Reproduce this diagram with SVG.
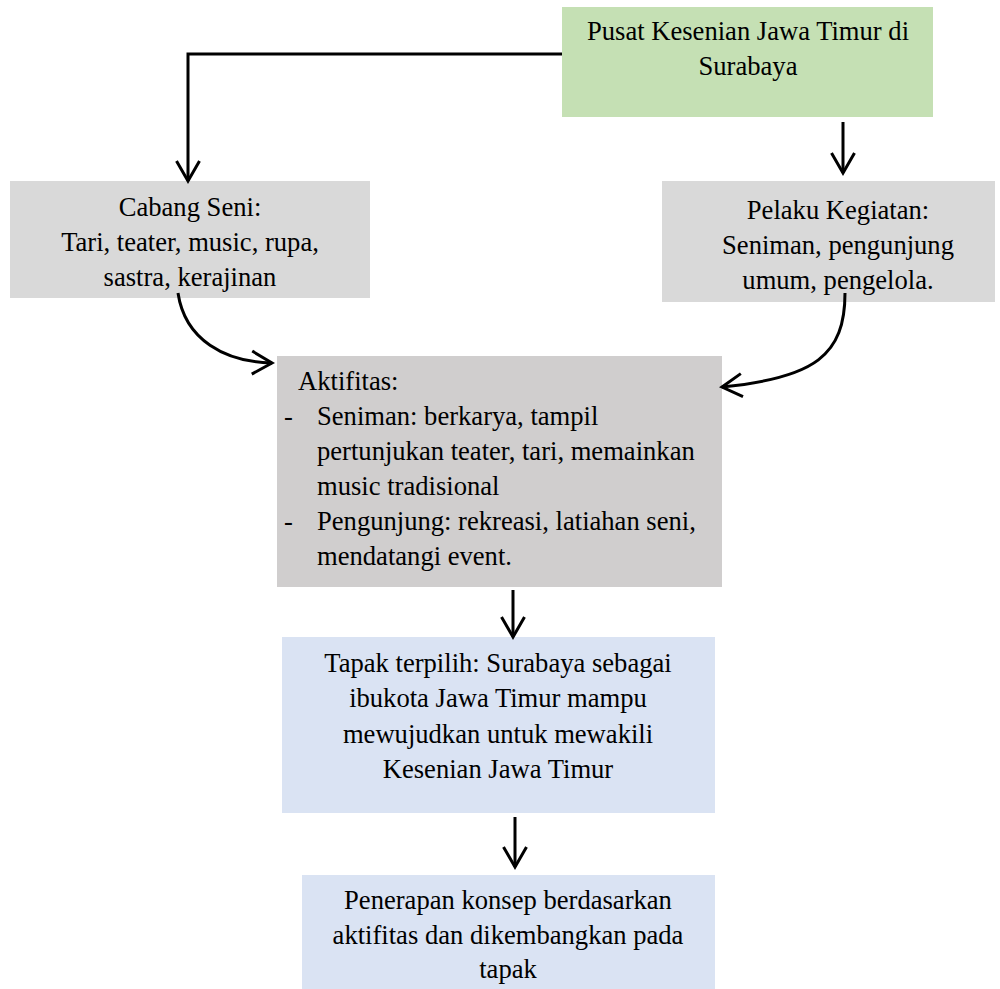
<svg xmlns="http://www.w3.org/2000/svg" width="1000" height="989" viewBox="0 0 1000 989">
  <style>
    text { font-family: "Liberation Serif", "Times New Roman", serif; font-size: 26.6px; fill: #000; }
    .c { text-anchor: middle; }
    .link { fill: none; stroke: #000; stroke-width: 3; }
  </style>
  <defs>
    <marker id="arrow" markerUnits="userSpaceOnUse" orient="auto" markerWidth="30" markerHeight="30" viewBox="-24 -15 28 30" refX="0" refY="0">
      <path d="M-20,-11.5 L0,0 L-20,11.5" fill="none" stroke="#000" stroke-width="3" stroke-linejoin="miter"/>
    </marker>
  </defs>

  <!-- boxes -->
  <g id="pusat">
    <rect x="562" y="7" width="371" height="110" fill="#C5E0B4"/>
    <text class="c" x="748" y="40">Pusat Kesenian Jawa Timur di</text>
    <text class="c" x="748" y="75">Surabaya</text>
  </g>

  <g id="cabang-seni">
    <rect x="10" y="181" width="360" height="117" fill="#D9D9D9"/>
    <text class="c" x="190" y="216">Cabang Seni:</text>
    <text class="c" x="190" y="251">Tari, teater, music, rupa,</text>
    <text class="c" x="190" y="286">sastra, kerajinan</text>
  </g>

  <g id="pelaku">
    <rect x="662" y="181" width="333" height="121" fill="#D9D9D9"/>
    <text class="c" x="838" y="219">Pelaku Kegiatan:</text>
    <text class="c" x="838" y="254">Seniman, pengunjung</text>
    <text class="c" x="838" y="289">umum, pengelola.</text>
  </g>

  <g id="aktifitas">
    <rect x="277" y="356" width="445" height="231" fill="#D0CECE"/>
    <text x="298" y="390">Aktifitas:</text>
    <text x="284" y="425">-</text>
    <text x="317" y="425">Seniman: berkarya, tampil</text>
    <text x="317" y="460">pertunjukan teater, tari, memainkan</text>
    <text x="317" y="495">music tradisional</text>
    <text x="284" y="530">-</text>
    <text x="317" y="530">Pengunjung: rekreasi, latiahan seni,</text>
    <text x="317" y="565">mendatangi event.</text>
  </g>

  <g id="tapak">
    <rect x="282" y="637" width="433" height="176" fill="#DAE3F3"/>
    <text class="c" x="498" y="672">Tapak terpilih: Surabaya sebagai</text>
    <text class="c" x="498" y="707">ibukota Jawa Timur mampu</text>
    <text class="c" x="498" y="743">mewujudkan untuk mewakili</text>
    <text class="c" x="498" y="778">Kesenian Jawa Timur</text>
  </g>

  <g id="penerapan">
    <rect x="302" y="875" width="413" height="114" fill="#DAE3F3"/>
    <text class="c" x="508" y="909">Penerapan konsep berdasarkan</text>
    <text class="c" x="508" y="944">aktifitas dan dikembangkan pada</text>
    <text class="c" x="508" y="978">tapak</text>
  </g>

  <!-- connectors -->
  <g id="connectors">
    <path class="link" d="M562,54 H188 V181" marker-end="url(#arrow)"/>
    <path class="link" d="M843,122 V173" marker-end="url(#arrow)"/>
    <path class="link" d="M178,293 C185,340 225,362 272,363" marker-end="url(#arrow)"/>
    <path class="link" d="M845,293 C845,355 815,378 722,387" marker-end="url(#arrow)"/>
    <path class="link" d="M513,590 V637" marker-end="url(#arrow)"/>
    <path class="link" d="M515,817 V867" marker-end="url(#arrow)"/>
  </g>
</svg>
